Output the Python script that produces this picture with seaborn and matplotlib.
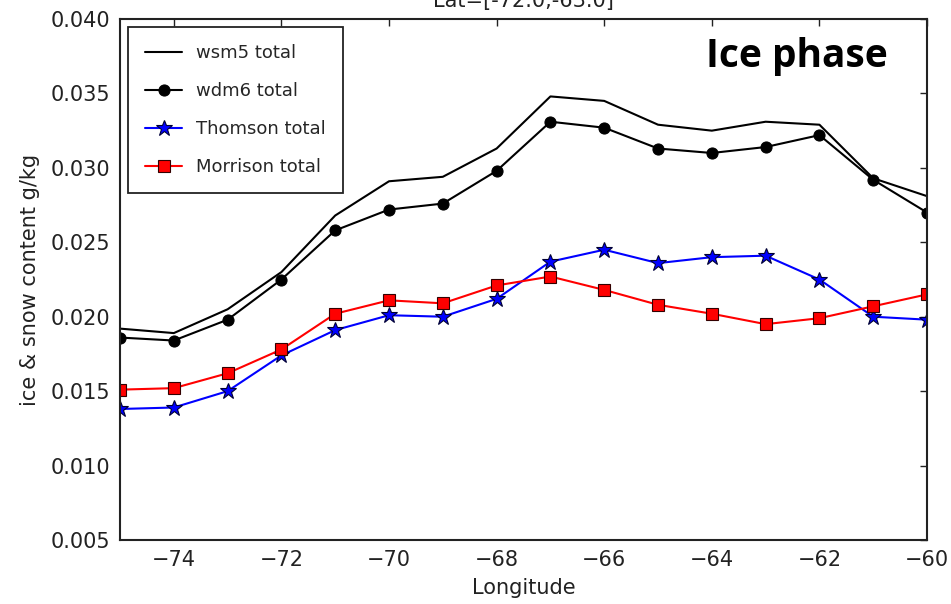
import matplotlib
matplotlib.use("Agg")
import matplotlib.pyplot as plt
import numpy as np
import pandas as pd
import seaborn as sns

# Longitudes of the zonal samples
longitude = [-75, -74, -73, -72, -71, -70, -69, -68, -67, -66, -65, -64, -63, -62, -61, -60]

# Ice + snow content (g/kg) for each microphysics scheme
wsm5_total = [0.0192, 0.0189, 0.0205, 0.0230, 0.0268, 0.0291, 0.0294, 0.0313,
              0.0348, 0.0345, 0.0329, 0.0325, 0.0331, 0.0329, 0.0293, 0.0281]
wdm6_total = [0.0186, 0.0184, 0.0198, 0.0225, 0.0258, 0.0272, 0.0276, 0.0298,
              0.0331, 0.0327, 0.0313, 0.0310, 0.0314, 0.0322, 0.0292, 0.0270]
thomson_total = [0.0138, 0.0139, 0.0150, 0.0174, 0.0191, 0.0201, 0.0200, 0.0212,
                 0.0237, 0.0245, 0.0236, 0.0240, 0.0241, 0.0225, 0.0200, 0.0198]
morrison_total = [0.0151, 0.0152, 0.0162, 0.0178, 0.0202, 0.0211, 0.0209, 0.0221,
                  0.0227, 0.0218, 0.0208, 0.0202, 0.0195, 0.0199, 0.0207, 0.0215]

series_labels = ["wsm5 total", "wdm6 total", "Thomson total", "Morrison total"]
x_ticks = [-74, -72, -70, -68, -66, -64, -62, -60]
y_ticks = [0.005, 0.010, 0.015, 0.020, 0.025, 0.030, 0.035, 0.040]

sns.set_theme(style="white", rc={
    "xtick.direction": "in",
    "ytick.direction": "in",
    "xtick.top": True,
    "ytick.right": True,
    "xtick.major.size": 5,
    "ytick.major.size": 5,
    "xtick.major.width": 1,
    "ytick.major.width": 1,
    "axes.edgecolor": "#222222",
    "axes.linewidth": 1.5,
})
plt.rcParams["font.family"] = ["DejaVu Sans"]

fig = plt.figure(figsize=(9.51, 6.04), dpi=100)
ax = fig.add_axes([0.1262, 0.106, 0.8486, 0.8625])

df = pd.DataFrame({"lon": longitude, "wsm5": wsm5_total, "wdm6": wdm6_total,
                   "thomson": thomson_total, "morrison": morrison_total})

sns.lineplot(data=df, x="lon", y="wsm5", ax=ax, color="black", lw=1.5,
             label=series_labels[0])
sns.lineplot(data=df, x="lon", y="wdm6", ax=ax, color="black", lw=1.5,
             marker="o", markersize=8, markeredgecolor="black",
             label=series_labels[1])
sns.lineplot(data=df, x="lon", y="thomson", ax=ax, color="blue", lw=1.5,
             marker="*", markersize=12, markeredgecolor="#000033", markeredgewidth=0.8,
             label=series_labels[2])
sns.lineplot(data=df, x="lon", y="morrison", ax=ax, color="red", lw=1.5,
             marker="s", markersize=8, markeredgecolor="#330000", markeredgewidth=0.8,
             label=series_labels[3])

ax.set_xlim(-75, -60)
ax.set_ylim(0.005, 0.040)
ax.set_xticks(x_ticks)
ax.set_yticks(y_ticks)
ax.set_yticklabels([f"{v:.3f}" for v in y_ticks])
ax.set_xticklabels([f"\u2212{abs(v)}" for v in x_ticks])
ax.tick_params(labelsize=15, colors="#222222", pad=7)
for t in ax.get_xticklabels() + ax.get_yticklabels():
    t.set_color("#222222")

ax.set_xlabel("Longitude", fontsize=15, color="#222222", labelpad=6)
ax.set_ylabel("ice & snow content g/kg", fontsize=15, color="#222222", labelpad=8)
ax.set_title("Lat=[-72.0,-63.0]", fontsize=15, color="#222222", pad=9)

leg = ax.legend(loc="upper left", fontsize=13, frameon=True, fancybox=False,
                edgecolor="#222222", framealpha=1, handlelength=2.05,
                labelspacing=1.1, borderpad=0.95, borderaxespad=0.45,
                handletextpad=0.75, numpoints=1)
leg.get_frame().set_linewidth(1.3)

fig.text(706 / 951, 1 - 67 / 604, "Ice phase", fontsize=28, fontweight="bold",
         family="Open Sans", ha="left", va="baseline", color="black")

fig.savefig("out.png", dpi=100)
